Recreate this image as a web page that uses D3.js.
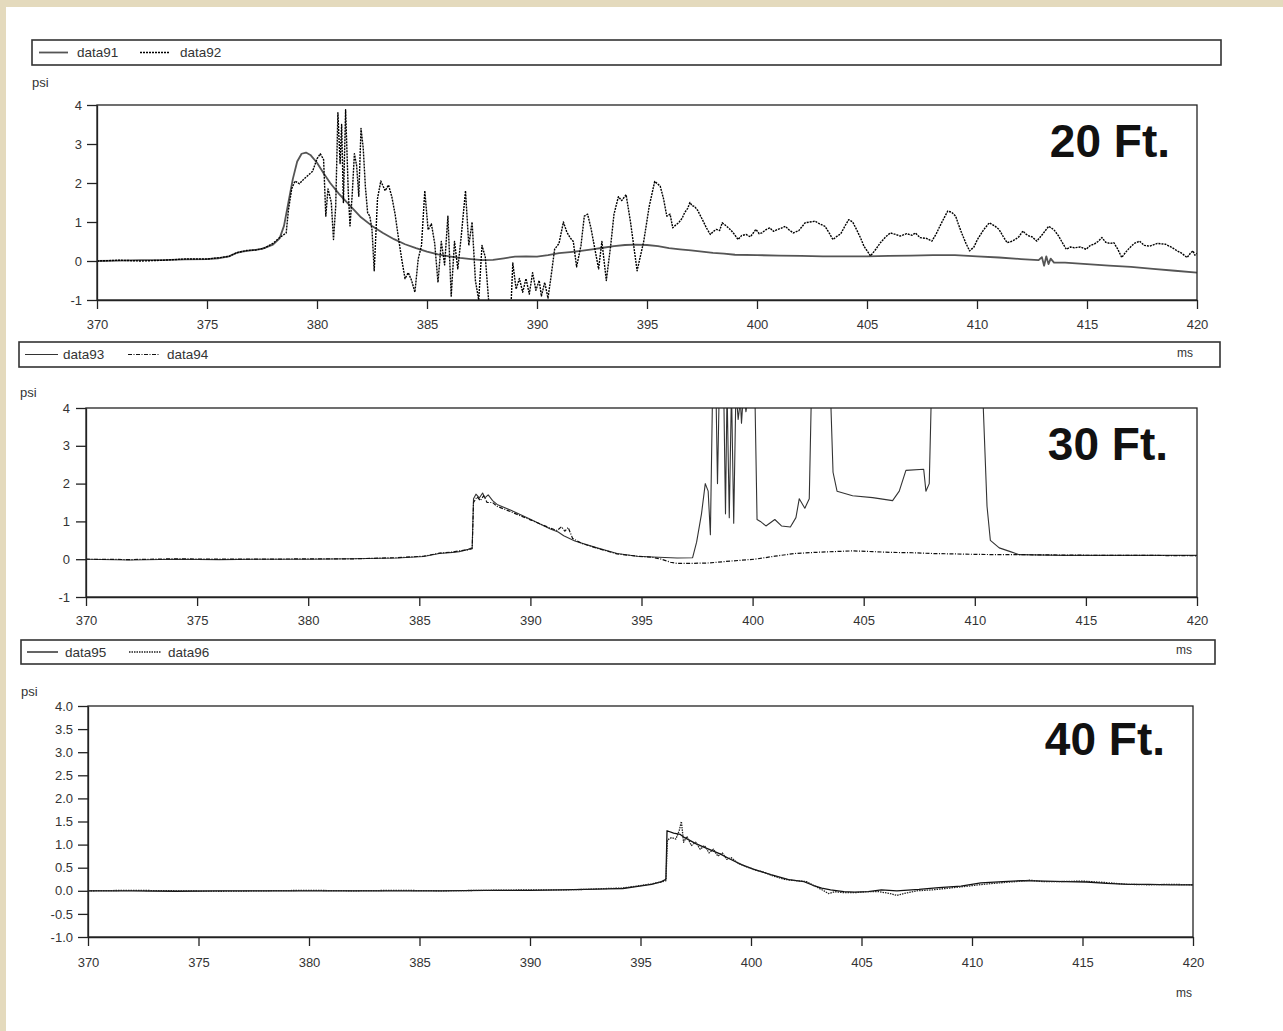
<!DOCTYPE html>
<html>
<head>
<meta charset="utf-8">
<script src="https://cdnjs.cloudflare.com/ajax/libs/d3/7.8.5/d3.min.js"></script>
<style>
  body { margin: 0; background: #fff; }
  svg { display: block; font-family: Arial, 'Liberation Sans', sans-serif; }
</style>
</head>
<body>
<svg id="chart" width="1283" height="1031"></svg>
<script>
// ---- values (ms, psi) ----
var xTicks = [370, 375, 380, 385, 390, 395, 400, 405, 410, 415, 420];
var yTicksWhole = [-1, 0, 1, 2, 3, 4];
var yTicksHalf = [-1, -0.5, 0, 0.5, 1, 1.5, 2, 2.5, 3, 3.5, 4];
var panelTitles = ['20 Ft.', '30 Ft.', '40 Ft.'];
var seriesNames = [['data91', 'data92'], ['data93', 'data94'], ['data95', 'data96']];

var data91 = [[370,0.0],[371,0.01],[372,0.02],[373,0.02],[374,0.04],[375,0.05],[375.5,0.07],[376,0.12],[376.3,0.2],
  [376.6,0.24],[377,0.27],[377.5,0.31],[378,0.42],[378.3,0.58],[378.5,0.9],[378.7,1.5],[378.9,2.1],[379.1,2.55],
  [379.3,2.75],[379.5,2.78],[379.7,2.72],[380,2.52],[380.3,2.25],[380.6,2.0],[381,1.72],[381.5,1.42],[382,1.12],
  [382.5,0.9],[383,0.72],[383.5,0.56],[384,0.43],[384.5,0.33],[385,0.24],[385.5,0.17],[386,0.12],[386.5,0.08],
  [387,0.05],[387.5,0.02],[388,0.03],[388.5,0.07],[389,0.11],[389.5,0.12],[390,0.11],[390.5,0.15],[391,0.2],
  [391.5,0.23],[392,0.26],[392.5,0.3],[393,0.34],[393.5,0.38],[394,0.41],[394.5,0.42],[395,0.41],[395.5,0.38],
  [396,0.33],[396.5,0.3],[397,0.27],[397.5,0.24],[398,0.21],[398.5,0.19],[399,0.16],[400,0.15],[401,0.14],
  [402,0.13],[403,0.12],[404,0.12],[405,0.12],[406,0.13],[407,0.14],[408,0.15],[409,0.15],[410,0.12],[411,0.09],
  [412,0.05],[412.8,0.02],[412.95,0.1],[413.05,-0.12],[413.15,0.12],[413.25,-0.08],[413.35,0.06],[413.5,-0.04],
  [414,-0.04],[415,-0.08],[416,-0.12],[417,-0.15],[418,-0.2],[419,-0.25],[420,-0.3]];

var data92 = [[370,0.0],[371,0.02],[372,0.0],[373,0.02],[374,0.05],[375,0.05],[375.5,0.08],[376,0.12],[376.4,0.22],
  [376.8,0.27],[377.2,0.28],[377.6,0.33],[378,0.45],[378.3,0.6],[378.6,0.72],[378.7,1.3],[378.85,1.85],[379.0,2.05],
  [379.2,1.98],[379.4,2.1],[379.6,2.2],[379.8,2.3],[380,2.62],[380.15,2.75],[380.3,2.6],[380.4,1.15],[380.5,1.85],
  [380.65,1.5],[380.75,0.55],[380.85,1.4],[380.95,3.8],[381.05,2.5],[381.12,3.5],[381.2,1.5],[381.3,3.88],
  [381.42,1.8],[381.5,0.9],[381.6,1.7],[381.7,2.75],[381.8,2.45],[381.9,1.66],[382.0,3.4],[382.1,2.9],[382.2,1.9],
  [382.3,1.24],[382.4,1.15],[382.5,0.8],[382.6,-0.25],[382.75,1.6],[382.9,2.05],[383.1,1.8],[383.25,1.95],
  [383.4,1.65],[383.55,1.2],[383.7,0.6],[383.85,0.05],[384.0,-0.45],[384.15,-0.3],[384.3,-0.5],[384.45,-0.8],
  [384.6,0.05],[384.75,0.4],[384.9,1.8],[385.05,0.8],[385.2,0.95],[385.35,0.45],[385.5,-0.55],[385.65,0.5],
  [385.8,-0.1],[385.95,1.15],[386.1,-0.9],[386.25,0.5],[386.4,-0.2],[386.55,0.6],[386.75,1.8],[386.9,0.4],
  [387.05,1.0],[387.2,-0.5],[387.35,-1.0],[387.5,0.4],[387.65,0.1],[387.8,-1.0],[387.9,-1.4],[388.8,-1.4],
  [388.9,-0.05],[389.05,-0.72],[389.2,-0.45],[389.35,-0.8],[389.5,-0.45],[389.65,-0.85],[389.8,-0.3],[389.95,-0.75],
  [390.1,-0.5],[390.2,-0.9],[390.35,-0.55],[390.5,-0.95],[390.65,-0.35],[390.8,0.3],[391.0,0.45],[391.2,1.0],
  [391.35,0.75],[391.5,0.6],[391.65,0.5],[391.8,-0.15],[392.0,0.4],[392.15,1.15],[392.3,1.2],[392.45,0.85],
  [392.6,0.4],[392.8,-0.2],[392.95,0.5],[393.15,-0.5],[393.35,0.4],[393.5,1.2],[393.7,1.65],[393.85,1.55],
  [394.05,1.7],[394.25,1.0],[394.55,-0.25],[394.85,0.5],[395.1,1.4],[395.35,2.04],[395.6,1.92],[395.75,1.6],
  [395.9,1.15],[396.05,1.2],[396.17,0.85],[396.3,0.92],[396.44,0.98],[396.6,1.1],[396.71,1.24],[396.85,1.35],
  [396.95,1.5],[397.05,1.42],[397.16,1.4],[397.3,1.3],[397.52,1.06],[397.7,0.85],[397.88,0.68],[398.0,0.75],
  [398.15,0.81],[398.3,0.78],[398.42,0.98],[398.6,0.9],[398.78,0.81],[398.95,0.7],[399.14,0.55],[399.3,0.65],
  [399.5,0.68],[399.7,0.62],[399.95,0.81],[400.1,0.7],[400.22,0.72],[400.4,0.8],[400.58,0.85],[400.75,0.76],
  [400.94,0.81],[401.1,0.84],[401.29,0.89],[401.45,0.8],[401.65,0.72],[401.9,0.78],[402.19,0.98],[402.4,1.0],
  [402.64,1.02],[402.85,0.95],[403.09,0.89],[403.3,0.7],[403.45,0.55],[403.6,0.62],[403.81,0.7],[404.0,0.9],
  [404.17,1.06],[404.35,1.0],[404.53,0.8],[404.7,0.6],[404.86,0.38],[405.16,0.13],[405.4,0.3],[405.61,0.47],
  [405.85,0.62],[406.06,0.72],[406.3,0.68],[406.51,0.64],[406.8,0.7],[407.05,0.66],[407.2,0.72],[407.41,0.6],
  [407.7,0.58],[407.95,0.51],[408.15,0.7],[408.31,0.89],[408.5,1.1],[408.67,1.28],[408.85,1.25],[409.03,1.15],
  [409.15,0.95],[409.3,0.72],[409.5,0.45],[409.66,0.26],[409.85,0.35],[410.02,0.55],[410.3,0.8],[410.56,0.98],
  [410.8,0.9],[411.0,0.81],[411.2,0.62],[411.37,0.47],[411.55,0.5],[411.73,0.55],[411.9,0.62],[412.09,0.77],
  [412.2,0.7],[412.36,0.64],[412.5,0.62],[412.72,0.51],[413.0,0.7],[413.26,0.89],[413.5,0.8],[413.71,0.64],
  [413.9,0.45],[414.06,0.3],[414.25,0.36],[414.42,0.34],[414.7,0.36],[414.96,0.3],[415.15,0.4],[415.32,0.43],
  [415.5,0.5],[415.68,0.6],[415.85,0.48],[416.04,0.45],[416.22,0.47],[416.4,0.3],[416.58,0.09],[416.75,0.22],
  [416.94,0.34],[417.15,0.45],[417.39,0.51],[417.6,0.4],[417.84,0.38],[418.2,0.45],[418.56,0.43],[418.85,0.35],
  [419.1,0.26],[419.3,0.2],[419.55,0.09],[419.7,0.2],[419.82,0.26],[419.9,0.15],[420,0.2]];

var data93 = [[370,0.0],[372,-0.02],[374,0.0],[376,-0.01],[378,0.0],[380,0.0],[382,0.01],[384,0.03],[385.2,0.07],
  [385.9,0.15],[386.5,0.18],[386.8,0.2],[387.2,0.26],[387.38,0.3],[387.44,1.6],[387.55,1.72],[387.7,1.62],
  [387.85,1.75],[387.95,1.62],[388.1,1.7],[388.3,1.55],[388.5,1.45],[389.1,1.3],[390.0,1.06],[390.9,0.8],
  [391.25,0.72],[391.5,0.62],[392.0,0.48],[393.0,0.3],[393.9,0.15],[394.8,0.08],[395.5,0.06],[396.6,0.03],
  [397.3,0.04],[397.48,0.45],[397.7,1.2],[397.87,2.0],[398.0,1.8],[398.1,0.65],[398.2,4.5],[398.35,4.5],
  [398.42,2.0],[398.5,4.5],[398.7,4.5],[398.78,1.2],[398.85,4.5],[398.95,1.1],[399.05,4.5],[399.15,0.95],
  [399.25,4.5],[399.35,3.7],[399.45,4.2],[399.5,3.6],[399.6,4.5],[399.7,3.9],[399.85,4.5],[400.1,4.5],
  [400.2,1.05],[400.35,1.0],[400.6,0.88],[401.0,1.05],[401.3,0.88],[401.7,0.85],[401.95,1.1],[402.1,1.6],
  [402.35,1.35],[402.55,1.6],[402.65,4.5],[403.5,4.5],[403.62,2.3],[403.8,1.8],[404.5,1.68],[405.4,1.63],
  [406.3,1.55],[406.6,1.8],[406.9,2.35],[407.7,2.38],[407.8,1.8],[407.95,2.0],[408.05,4.5],[410.35,4.5],
  [410.55,1.4],[410.7,0.5],[411.1,0.3],[411.6,0.2],[412,0.12],[414,0.1],[416,0.1],[418,0.1],[420,0.1]];

var data94 = [[370,0.0],[372,-0.01],[374,0.01],[376,0.0],[378,0.0],[380,0.01],[382,0.01],[384,0.04],[385.2,0.08],
  [385.9,0.16],[386.5,0.19],[386.8,0.22],[387.2,0.25],[387.38,0.28],[387.44,1.5],[387.6,1.65],[387.75,1.55],
  [387.9,1.68],[388.05,1.5],[388.3,1.5],[388.5,1.4],[389.1,1.26],[390.0,1.04],[390.9,0.82],[391.2,0.76],
  [391.4,0.86],[391.55,0.74],[391.7,0.84],[391.9,0.55],[392.3,0.42],[393.0,0.29],[393.9,0.14],[394.8,0.08],
  [395.5,0.05],[395.9,0.0],[396.3,-0.08],[396.6,-0.11],[397.3,-0.11],[398,-0.1],[399,-0.05],[400.1,0.0],
  [401,0.08],[401.9,0.15],[402.8,0.18],[403.6,0.2],[404.5,0.22],[405.4,0.2],[406.3,0.18],[407.2,0.17],
  [408.1,0.15],[409,0.14],[409.9,0.13],[411,0.12],[412,0.12],[414,0.11],[416,0.1],[418,0.1],[420,0.09]];

var data95 = [[370,0.0],[372,0.0],[374,-0.01],[376,0.0],[378,0.0],[380,0.0],[382,0.0],[384,0.0],[386,0.0],
  [388,0.01],[390,0.01],[391.4,0.02],[392.5,0.03],[393.5,0.04],[394.2,0.05],[394.8,0.09],[395.5,0.14],
  [395.95,0.2],[396.15,0.25],[396.2,1.3],[396.5,1.25],[396.8,1.22],[397.0,1.15],[397.5,1.02],[398.0,0.92],
  [398.6,0.8],[399.0,0.7],[399.6,0.56],[400.1,0.47],[400.9,0.35],[401.7,0.24],[402.4,0.2],[402.8,0.12],
  [403.2,0.06],[403.6,0.02],[404.2,-0.02],[404.7,-0.03],[405.3,-0.02],[405.9,0.02],[406.6,0.0],[407.6,0.03],
  [408.5,0.07],[409.5,0.1],[410.4,0.17],[411.4,0.2],[412.3,0.22],[413.3,0.21],[414.2,0.2],[415.2,0.19],
  [416.1,0.16],[417.1,0.14],[418.0,0.14],[419,0.13],[420,0.13]];

var data96 = [[370,0.0],[372,0.01],[374,0.0],[376,-0.01],[378,0.0],[380,0.01],[382,0.0],[384,0.01],[386,0.0],
  [388,0.01],[390,0.02],[391.4,0.02],[392.5,0.03],[393.5,0.05],[394.2,0.06],[394.8,0.1],[395.5,0.15],
  [395.95,0.19],[396.15,0.22],[396.22,1.1],[396.4,1.15],[396.6,1.12],[396.75,1.3],[396.85,1.5],[396.95,1.05],
  [397.1,1.18],[397.3,0.98],[397.5,1.05],[397.7,0.9],[397.9,0.98],[398.1,0.82],[398.3,0.9],[398.5,0.75],
  [398.7,0.82],[398.9,0.68],[399.1,0.72],[399.4,0.6],[399.8,0.52],[400.2,0.45],[400.6,0.4],[401.0,0.32],
  [401.5,0.25],[402.0,0.22],[402.5,0.2],[402.9,0.1],[403.3,0.0],[403.5,-0.06],[403.8,-0.02],[404.2,-0.04],
  [404.7,-0.04],[405.2,-0.02],[405.8,-0.02],[406.3,-0.06],[406.6,-0.1],[407.0,-0.05],[407.5,0.0],[408.2,0.02],
  [409,0.06],[409.8,0.1],[410.5,0.14],[411.2,0.17],[412,0.2],[412.6,0.23],[413.2,0.2],[414,0.2],[415,0.21],
  [416,0.18],[417,0.14],[418,0.13],[419,0.14],[420,0.13]];

(function () {
  'use strict';
  var svg = d3.select('#chart');

  // plain hyphen for negatives, as in the original
  var locale = d3.formatLocale({decimal: '.', thousands: ',', grouping: [3], currency: ['', ''], minus: '-'});

  // beige strips along top and left edge of the original screenshot
  svg.append('rect').attr('width', 1283).attr('height', 1031).attr('fill', '#fff');
  svg.append('rect').attr('width', 1283).attr('height', 7).attr('fill', '#e4dabd');
  svg.append('rect').attr('width', 6).attr('height', 1031).attr('fill', '#e4dabd');

  // line styles: first series solid, second dotted / dash-dot
  var styles = [
    [{stroke: '#555', width: 1.8, dash: null}, {stroke: '#000', width: 1.4, dash: '2,1'}],
    [{stroke: '#333', width: 1.1, dash: null}, {stroke: '#111', width: 1.2, dash: '4,1.5,1,1.5'}],
    [{stroke: '#111', width: 1.3, dash: null}, {stroke: '#222', width: 1.3, dash: '1.5,1'}]
  ];

  var panels = [
    {left: 97, right: 1197, top: 105, bottom: 300, yTicks: yTicksWhole, fmt: locale.format('d'),
     legend: [32, 40, 1221, 65], samples: [39, 68, 77, 140, 170, 180], psi: [32, 87],
     title: [1170, 157], ms: [1177, 357], xPad: 11, yPad: 5, series: [data91, data92]},
    {left: 86, right: 1197, top: 408, bottom: 597, yTicks: yTicksWhole, fmt: locale.format('d'),
     legend: [19, 342, 1220, 367], samples: [25, 58, 63, 128, 159, 167], psi: [20, 397],
     title: [1168, 460], ms: [1176, 654], xPad: 10, yPad: 6, series: [data93, data94]},
    {left: 88, right: 1193, top: 706, bottom: 937, yTicks: yTicksHalf, fmt: locale.format('.1f'),
     legend: [21, 640, 1215, 664], samples: [27, 58, 65, 129, 161, 168], psi: [21, 696],
     title: [1165, 755], ms: [1176, 997], xPad: 12, yPad: 5, series: [data95, data96]}
  ];

  panels.forEach(function(p, i) {
    var x = d3.scaleLinear().domain([370, 420]).range([p.left, p.right]),
        y = d3.scaleLinear().domain([-1, 4]).range([p.bottom, p.top]);
    var g = svg.append('g');

    // legend box with two samples
    var lb = p.legend, ly = (lb[1] + lb[3]) / 2;
    g.append('rect')
      .attr('x', lb[0]).attr('y', lb[1])
      .attr('width', lb[2] - lb[0]).attr('height', lb[3] - lb[1])
      .attr('fill', 'none').attr('stroke', '#333').attr('stroke-width', 1.6);
    [0, 1].forEach(function(k) {
      var s = styles[i][k], o = k * 3;
      g.append('line')
        .attr('x1', p.samples[o]).attr('x2', p.samples[o + 1])
        .attr('y1', ly).attr('y2', ly)
        .attr('stroke', s.stroke).attr('stroke-width', s.width)
        .attr('stroke-dasharray', s.dash);
      g.append('text')
        .attr('x', p.samples[o + 2]).attr('y', ly + 4.5)
        .attr('font-size', 13.5).attr('fill', '#333')
        .text(seriesNames[i][k]);
    });

    // clip lines to plot area
    svg.append('clipPath').attr('id', 'clip' + i)
      .append('rect')
        .attr('x', p.left).attr('y', p.top)
        .attr('width', p.right - p.left).attr('height', p.bottom - p.top);

    var line = d3.line()
      .x(function(d) { return x(d[0]); })
      .y(function(d) { return y(d[1]); });

    p.series.forEach(function(data, k) {
      var s = styles[i][k];
      g.append('path')
        .datum(data)
        .attr('clip-path', 'url(#clip' + i + ')')
        .attr('fill', 'none')
        .attr('stroke', s.stroke)
        .attr('stroke-width', s.width)
        .attr('stroke-dasharray', s.dash)
        .attr('stroke-linejoin', 'round')
        .attr('d', line);
    });

    // frame (top + right) and axes
    g.append('rect')
      .attr('x', p.left).attr('y', p.top)
      .attr('width', p.right - p.left).attr('height', p.bottom - p.top)
      .attr('fill', 'none').attr('stroke', '#222').attr('stroke-width', 1.3);

    var xAxis = g.append('g')
      .attr('transform', 'translate(0,' + p.bottom + ')')
      .call(d3.axisBottom(x).tickValues(xTicks).tickSize(9).tickSizeOuter(0).tickPadding(p.xPad));
    var yAxis = g.append('g')
      .attr('transform', 'translate(' + p.left + ',0)')
      .call(d3.axisLeft(y).tickValues(p.yTicks).tickFormat(p.fmt).tickSize(10).tickSizeOuter(0).tickPadding(p.yPad));

    [xAxis, yAxis].forEach(function(ax) {
      ax.select('.domain').attr('stroke', '#222').attr('stroke-width', 1.3);
      ax.selectAll('.tick line').attr('stroke', '#222').attr('stroke-width', 1.3);
      ax.selectAll('.tick text')
        .attr('font-family', "Arial, 'Liberation Sans', sans-serif")
        .attr('font-size', 13).attr('fill', '#333');
    });

    // units and panel title
    g.append('text')
      .attr('x', p.psi[0]).attr('y', p.psi[1])
      .attr('font-size', 13).attr('fill', '#333')
      .text('psi');
    g.append('text')
      .attr('x', p.ms[0]).attr('y', p.ms[1])
      .attr('font-size', 12).attr('fill', '#333')
      .text('ms');
    g.append('text')
      .attr('x', p.title[0]).attr('y', p.title[1])
      .attr('text-anchor', 'end')
      .attr('font-size', 46).attr('font-weight', 'bold').attr('fill', '#111')
      .text(panelTitles[i]);
  });
}());
</script>
</body>
</html>
